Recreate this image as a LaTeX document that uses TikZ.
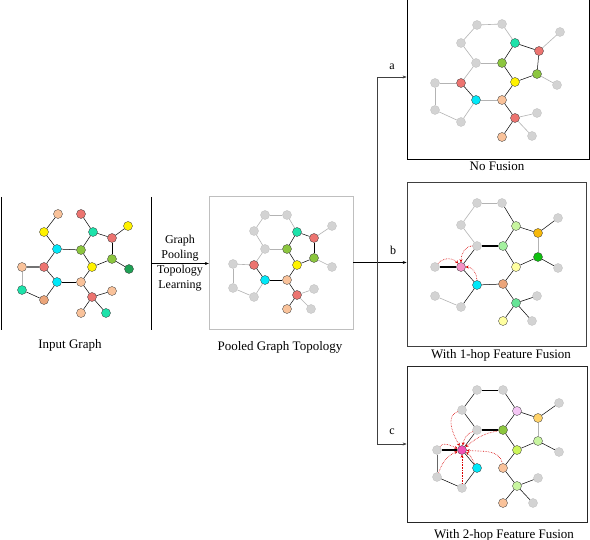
\documentclass[tikz,border=0pt]{standalone}
\usepackage{fontspec}
\setmainfont{Liberation Serif}
\usetikzlibrary{positioning,arrows.meta}

\definecolor{peach}{HTML}{F9C29A}
\definecolor{tan}{HTML}{EBA57A}
\definecolor{salmon}{HTML}{EC7470}
\definecolor{mint}{HTML}{1DE2AA}
\definecolor{aqua}{HTML}{00E8F8}
\definecolor{leaf}{HTML}{8CC63F}
\definecolor{forest}{HTML}{1FA055}
\definecolor{lgray}{HTML}{D3D3D3}
\definecolor{pale}{HTML}{C8F5A0}
\definecolor{amber}{HTML}{F7B90A}
\definecolor{bgreen}{HTML}{10C010}
\definecolor{mgreen}{HTML}{A5F2A0}
\definecolor{blush}{HTML}{F592C6}
\definecolor{lyel}{HTML}{FFFFA0}
\definecolor{sea}{HTML}{66E496}
\definecolor{lilac}{HTML}{F5C6F5}
\definecolor{gold}{HTML}{FFD36A}
\definecolor{rose}{HTML}{F052B5}
\definecolor{lime}{HTML}{CCF55A}

\begin{document}
\begin{tikzpicture}[x=1pt, y=-1pt, font=\fontsize{12}{15}\selectfont]
	% Styles
	\tikzstyle{vtx}=[circle, draw=black!80, line width=0.3pt, minimum size=9pt, inner sep=0pt]
	\tikzstyle{idle}=[vtx, fill=lgray, draw=lgray!90!black]
	\tikzstyle{link}=[line width=0.5pt]
	\tikzstyle{faint}=[line width=0.6pt, draw=lgray!85!black]
	\tikzstyle{heavy}=[line width=1.1pt]
	\tikzstyle{fuse}=[red!85!black, densely dotted, line width=0.6pt, -{Stealth[length=3pt,width=3pt]}]
	\tikzstyle{arrow}=[-{Stealth[length=4pt,width=3pt]}, line width=0.5pt]
	\tikzstyle{frame}=[draw, rectangle, inner sep=0pt]
	\tikzstyle{caption}=[font={\fontsize{13}{15}\selectfont}]
	\tikzstyle{branch}=[font={\fontsize{12}{15}\selectfont}]

	\fill[white] (0,0) rectangle (590,540);
	\useasboundingbox (0,0) rectangle (590,540);

	% Frames
	\node[minimum width=149pt, minimum height=133pt] (input) at (76.5,263.5) {};
	\draw[line width=1pt] (input.north west) -- (input.south west);
	\draw[line width=1pt] (input.north east) -- (input.south east);
	\node[frame, draw=black!25, minimum width=144pt, minimum height=133pt] (pool) at (281,262.5) {};
	\node[frame, line width=0.8pt, minimum width=182pt, minimum height=164pt] (boxa) at (498,77) {};
	\node[frame, draw=black!75, line width=0.7pt, minimum width=179pt, minimum height=164pt] (boxb) at (496.5,264) {};
	\node[frame, draw=black!85, line width=0.7pt, minimum width=180pt, minimum height=156pt] (boxc) at (497,444) {};

	% Captions
	\node[caption] (capin) at (70,345) {Input Graph};
	\node[caption] (cappool) at (280,347) {Pooled Graph Topology};
	\node[caption] (capa) at (497,166) {No Fusion};
	\node[caption] (capb) at (501,355) {With 1-hop Feature Fusion};
	\node[caption] (capc) at (504,535) {With 2-hop Feature Fusion};

	% Input graph
	\foreach \n/\x/\y/\c in {i1/58/214/peach, i2/81/214/salmon, i3/44/232/yellow, i4/93/232/mint,
		i5/128/226/yellow, i6/112/238/salmon, i7/57/249/aqua, i8/81/250/leaf, i9/112/259/leaf,
		i10/129/269/forest, i11/22/267/peach, i12/44/267/salmon, i13/92/267/yellow, i14/57/282/aqua,
		i15/81/282/peach, i16/22/290/mint, i17/112/291/peach, i18/92/297/salmon, i19/44/300/tan,
		i20/81/313/peach, i21/106/313/mint}
		\node[vtx, fill=\c] (\n) at (\x,\y) {};
	\foreach \u/\v in {1/3, 3/7, 2/4, 4/8, 4/6, 6/5, 6/9, 9/10, 9/13, 7/8, 7/12, 8/13, 16/19,
		19/14, 12/14, 14/15, 15/13, 15/18, 18/17, 18/20, 18/21}
		\draw[link] (i\u) -- (i\v);
	\draw[faint] (i11) -- (i16);
	\draw[heavy, black!55] (i11) -- (i12);

	% Pooled graph
	\foreach \n/\x/\y/\c in {p4/297/232/mint, p6/314/238/salmon, p8/287/249/leaf, p9/314/258/leaf,
		p12/254/265/salmon, p13/297/265/yellow, p14/265/280/aqua, p15/287/280/peach,
		p18/297/295/salmon, p20/287/309/peach}
		\node[vtx, fill=\c] (\n) at (\x,\y) {};
	\foreach \n/\x/\y in {p1/265/215, p2/287/215, p3/254/231, p5/332/226, p7/265/249, p10/332/267,
		p11/233/264, p16/233/288, p17/314/289, p19/254/297, p21/311/309}
		\node[idle] (\n) at (\x,\y) {};
	\foreach \u/\v in {4/8, 4/6, 6/9, 9/13, 8/13, 12/14, 14/15, 15/13, 15/18, 18/20}
		\draw[link] (p\u) -- (p\v);
	\foreach \u/\v in {1/2, 1/3, 2/4, 3/7, 7/8, 7/12, 6/5, 9/10, 12/11, 11/16, 16/19, 19/14, 18/17, 18/21}
		\draw[faint] (p\u) -- (p\v);

	% No fusion
	\foreach \n/\x/\y/\c in {a4/515/43/mint, a6/539/51/salmon, a8/502/63/leaf, a9/537/74/leaf,
		a12/461/83/salmon, a13/515/82/yellow, a14/476/100/aqua, a15/502/100/peach,
		a18/515/118/salmon, a20/502/137/peach}
		\node[vtx, fill=\c] (\n) at (\x,\y) {};
	\foreach \n/\x/\y in {a1/477/25, a2/502/24, a3/461/43, a5/560/32, a7/476/63, a10/557/85,
		a11/435/83, a16/435/110, a17/537/113, a19/461/122, a21/532/136}
		\node[idle] (\n) at (\x,\y) {};
	\foreach \u/\v in {4/8, 4/6, 6/9, 9/13, 8/13, 12/14, 15/13, 15/18, 18/20}
		\draw[link] (a\u) -- (a\v);
	\foreach \u/\v in {14/15, 1/2, 1/3, 2/4, 3/7, 7/8, 7/12, 6/5, 9/10, 12/11, 11/16, 16/19, 19/14, 18/17, 18/21}
		\draw[faint] (a\u) -- (a\v);

	% 1-hop fusion
	\foreach \n/\x/\y/\c in {b4/516/226/pale, b6/538/233/amber, b8/503/246/mgreen, b9/538/257/bgreen,
		b12/461/267/blush, b13/516/267/lyel, b14/477/285/aqua, b15/503/284/tan,
		b18/516/303/sea, b20/503/321/lyel}
		\node[vtx, fill=\c] (\n) at (\x,\y) {};
	\foreach \n/\x/\y in {b1/477/203, b2/502/203, b3/461/225, b5/558/218, b7/477/246, b10/558/268,
		b11/435/267, b16/435/296, b17/537/296, b19/461/307, b21/532/321}
		\node[idle] (\n) at (\x,\y) {};
	\foreach \u/\v in {2/4, 4/8, 4/6, 6/5, 9/10, 9/13, 8/13, 7/12, 12/14, 19/14, 14/15, 15/13,
		15/18, 18/17, 18/20, 18/21}
		\draw[link] (b\u) -- (b\v);
	\foreach \u/\v in {7/8, 12/11}
		\draw[heavy] (b\u) -- (b\v);
	\foreach \u/\v in {1/2, 1/3, 3/7, 6/9, 16/19}
		\draw[faint] (b\u) -- (b\v);
	\draw[fuse] (b11) to[out=50, in=130] (b12);
	\draw[fuse] (b7) to[out=180, in=90] (b12);
	\draw[fuse] (b14) to[out=90, in=0] (b12);

	% 2-hop fusion
	\foreach \n/\x/\y/\c in {c4/517/411/lilac, c6/538/418/gold, c8/503/430/leaf, c9/538/441/pale,
		c12/462/450/rose, c13/517/450/lime, c14/477/468/aqua, c15/503/468/peach,
		c18/517/486/pale, c20/503/503/peach}
		\node[vtx, fill=\c] (\n) at (\x,\y) {};
	\foreach \n/\x/\y in {c1/477/390, c2/503/390, c3/462/410, c5/559/403, c7/477/430, c10/559/452,
		c11/437/450, c16/437/477, c17/538/478, c19/462/488, c21/533/503}
		\node[idle] (\n) at (\x,\y) {};
	\foreach \u/\v in {1/2, 1/3, 3/7, 2/4, 4/8, 4/6, 6/5, 9/10, 9/13, 8/13, 7/12, 12/14, 14/19,
		16/19, 15/13, 15/18, 18/17, 18/20, 18/21}
		\draw[link] (c\u) -- (c\v);
	\foreach \u/\v in {7/8, 12/11}
		\draw[heavy] (c\u) -- (c\v);
	\draw[link, black!60] (c11) -- (c16);
	\draw[faint] (c6) -- (c9);
	\draw[fuse] (c3) to[out=200, in=120] (c12);
	\draw[fuse] (c7) to[out=200, in=80] (c12);
	\draw[fuse] (c8) to[out=190, in=40] (c12);
	\draw[fuse] (c11) to[out=50, in=160] (c12);
	\draw[fuse] (c16) to[out=70, in=200] (c12);
	\draw[fuse] (c19) -- (c12);
	\draw[fuse] (c14) to[out=120, in=-30] (c12);
	\draw[fuse] (c15) to[out=100, in=-5] (c12);

	% Pipeline arrows
	\draw[arrow] (input.east) -- node[branch, align=center] (learn) {Graph\\Pooling\\Topology\\Learning} (input.east -| pool.west);
	\coordinate (split) at (377,263);
	\draw[arrow] (pool.east) -- (pool.east -| boxb.west);
	\draw[arrow, black!75] (split) |- (boxa.west);
	\draw[arrow, black!75] (split) |- (boxc.west);
	\node[branch] (taga) at (392,67) {a};
	\node[branch] (tagb) at (393,250) {b};
	\node[branch] (tagc) at (392,432) {c};
\end{tikzpicture}
\end{document}
